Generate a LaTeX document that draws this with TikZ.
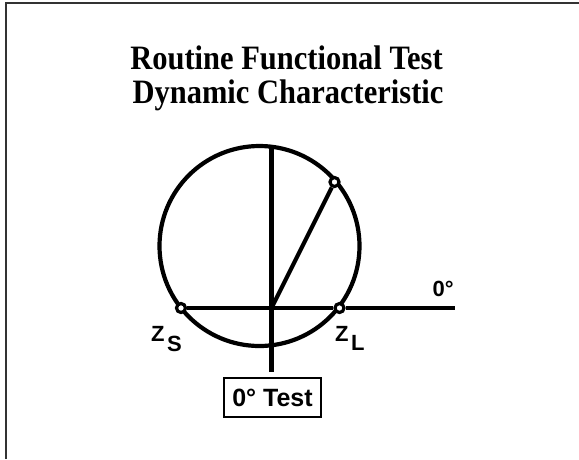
\documentclass[tikz,border=0pt]{standalone}
\usepackage{fontspec}
\setmainfont{Liberation Serif}
\newfontfamily\lsans{Liberation Sans}
\begin{document}
\begin{tikzpicture}[x=1pt,y=-1pt,
  thickline/.style={line width=4.2pt},
  ptnode/.style={circle, draw, fill=white, line width=3.2pt, inner sep=0pt, minimum size=9pt},
  lbl/.style={font=\lsans\bfseries\fontsize{22}{22}\selectfont, inner sep=0pt},
  titlefont/.style={font=\bfseries\fontsize{30.5}{34}\selectfont, inner sep=0pt}]
\useasboundingbox (0,0) rectangle (579,459);
\draw[line width=2pt, black!80] (6,459) -- (6,3) -- (579,3);
% title
\node[titlefont, anchor=base] (t1) at (286.5,69) {\scalebox{1}[1.12]{Routine Functional Test}};
\node[titlefont, anchor=base] (t2) at (288,103) {\scalebox{1}[1.12]{Dynamic Characteristic}};
% circle
\node[circle, draw, line width=4.2pt, minimum size=200pt, inner sep=0pt] (C) at (259.5,246) {};
\coordinate (O) at (271.5,308);
\coordinate (vtop) at (271.5,147);
\coordinate (vbot) at (271.5,372);
\coordinate (hend) at (455,308);
\node[ptnode] (ZS) at (181,308) {};
\node[ptnode] (ZL) at (339.5,308) {};
\node[ptnode] (P) at (334.5,182) {};
\draw[thickline] (vtop) -- (vbot);
\draw[thickline] (ZS) -- (ZL);
\draw[thickline] (ZL) -- (hend);
\draw[thickline] (O) -- (P);
% labels
\node[lbl, anchor=base west] (deg) at (432.5,296.7) {0°};
\node[lbl, anchor=base west] (zsl) at (151,341) {Z\kern2.5pt\raisebox{-10.5pt}{S}};
\node[lbl, anchor=base west] (zll) at (335,341) {Z\kern2.5pt\raisebox{-9.5pt}{L}};
\node[draw, line width=1.8pt, minimum width=97pt, minimum height=39pt, inner sep=0pt,
      font=\lsans\bfseries\fontsize{25}{25}\selectfont] (test) at (272.5,397.5) {0° Test};
\end{tikzpicture}
\end{document}
